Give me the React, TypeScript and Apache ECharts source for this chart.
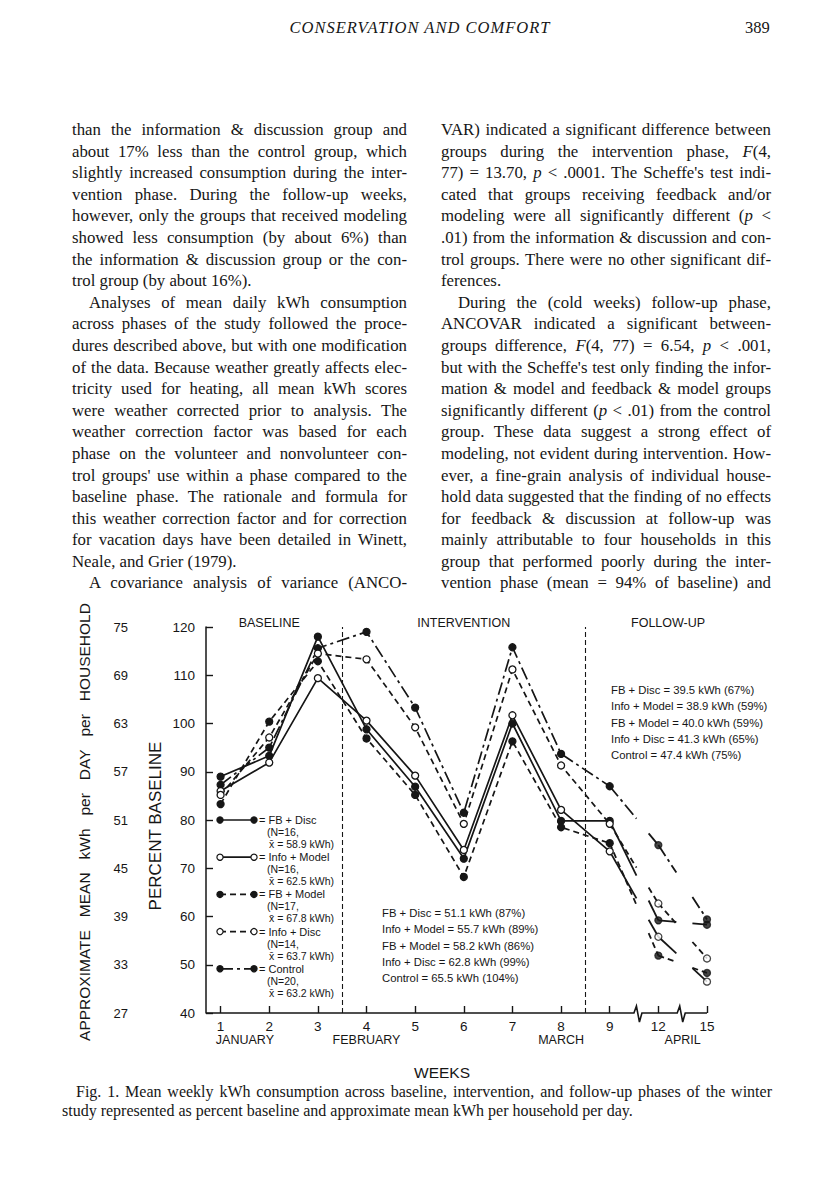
import React, { useEffect, useLayoutEffect, useRef } from 'react';
import * as echarts from 'echarts';

// ---------------- data ----------------
const weekLabels = ['1', '2', '3', '4', '5', '6', '7', '8', '9', '12', '15'];
const monthLabels = ['JANUARY', 'FEBRUARY', 'MARCH', 'APRIL'];
const monthSlots = [1.5, 4, 8, 10.5];
const phaseLabels = ['BASELINE', 'INTERVENTION', 'FOLLOW-UP'];
const phaseLabelSlots = [2, 6, 10.2];
const phaseBoundaries = [3.5, 8.5];
const percentTicks = [40, 50, 60, 70, 80, 90, 100, 110, 120];
const kwhTicks = ['27', '33', '39', '45', '51', '57', '63', '69', '75'];

const groupNames = ['FB + Disc', 'Info + Model', 'FB + Model', 'Info + Disc', 'Control'];
const groupN = ['16', '16', '17', '14', '20'];
const groupMeanKwh = ['58.9', '62.5', '67.8', '63.7', '63.2'];

const fbDisc = [89.0, 93.3, 118.0, 98.8, 86.9, 72.0, 100.0, 79.8, 79.8, 59.2, 58.3];
const infoModel = [86.0, 91.9, 109.4, 100.6, 89.2, 73.8, 101.7, 82.1, 73.5, 55.8, 46.5];
const fbModel = [83.3, 100.4, 112.9, 96.9, 85.2, 68.2, 96.3, 78.5, 75.2, 51.9, 48.3];
const infoDisc = [85.2, 97.1, 114.5, 113.3, 99.2, 79.2, 111.2, 91.3, 79.2, 62.7, 51.3];
const control = [87.3, 95.0, 115.6, 119.0, 103.3, 81.5, 115.8, 93.7, 87.0, 74.8, 59.4];

const interventionMeans = [
  'FB + Disc = 51.1 kWh (87%)',
  'Info + Model = 55.7 kWh (89%)',
  'FB + Model = 58.2 kWh (86%)',
  'Info + Disc = 62.8 kWh (99%)',
  'Control = 65.5 kWh (104%)',
];
const followUpMeans = [
  'FB + Disc = 39.5 kWh (67%)',
  'Info + Model = 38.9 kWh (59%)',
  'FB + Model = 40.0 kWh (59%)',
  'Info + Disc = 41.3 kWh (65%)',
  'Control = 47.4 kWh (75%)',
];

const headerTitle = 'CONSERVATION AND COMFORT';
const pageNumber = '389';
const leftLines = [
  'than the information & discussion group and',
  'about 17% less than the control group, which',
  'slightly increased consumption during the inter-',
  'vention phase. During the follow-up weeks,',
  'however, only the groups that received modeling',
  'showed less consumption (by about 6%) than',
  'the information & discussion group or the con-',
  'trol group (by about 16%).',
  'Analyses of mean daily kWh consumption',
  'across phases of the study followed the proce-',
  'dures described above, but with one modification',
  'of the data. Because weather greatly affects elec-',
  'tricity used for heating, all mean kWh scores',
  'were weather corrected prior to analysis. The',
  'weather correction factor was based for each',
  'phase on the volunteer and nonvolunteer con-',
  "trol groups' use within a phase compared to the",
  'baseline phase. The rationale and formula for',
  'this weather correction factor and for correction',
  'for vacation days have been detailed in Winett,',
  'Neale, and Grier (1979).',
  'A covariance analysis of variance (ANCO-',
];
const leftParaEnds = [7, 20];
const leftIndents = [8, 21];
const rightLines = [
  'VAR) indicated a significant difference between',
  'groups during the intervention phase, _F_(4,',
  "77) = 13.70, _p_ < .0001. The Scheffe's test indi-",
  'cated that groups receiving feedback and/or',
  'modeling were all significantly different (_p_ <',
  '.01) from the information & discussion and con-',
  'trol groups. There were no other significant dif-',
  'ferences.',
  'During the (cold weeks) follow-up phase,',
  'ANCOVAR indicated a significant between-',
  'groups difference, _F_(4, 77) = 6.54, _p_ < .001,',
  "but with the Scheffe's test only finding the infor-",
  'mation & model and feedback & model groups',
  'significantly different (_p_ < .01) from the control',
  'group. These data suggest a strong effect of',
  'modeling, not evident during intervention. How-',
  'ever, a fine-grain analysis of individual house-',
  'hold data suggested that the finding of no effects',
  'for feedback & discussion at follow-up was',
  'mainly attributable to four households in this',
  'group that performed poorly during the inter-',
  'vention phase (mean = 94% of baseline) and',
];
const rightParaEnds = [7];
const rightIndents = [8];
const captionLines = [
  'Fig. 1. Mean weekly kWh consumption across baseline, intervention, and follow-up phases of the winter',
  'study represented as percent baseline and approximate mean kWh per household per day.',
];

// ---------------- styling ----------------
const INK = '#161616';
const SANS = '"Liberation Sans", Arial, sans-serif';
const SERIF = '"Liberation Serif", "Times New Roman", serif';
const groupValues = [fbDisc, infoModel, fbModel, infoDisc, control];
const groupFilled = [true, false, true, false, true];
const groupDash: any[] = ['solid', 'solid', [6, 4], [6, 4], [13, 4, 3, 4]];
const X_MIN = 0.7;
const X_MAX = 11;
const stubSpans = [
  [[0, 0.55], [0.8, 1]],
  [[0, 0.37], [0.7, 1]],
];

function renderLine(text: string) {
  const parts = text.split('_');
  return parts.map((p, i) => (i % 2 === 1 ? <i key={i}>{p}</i> : <span key={i}>{p}</span>));
}

function JustLine({ text, width, justify, indent, height }: any) {
  const r = useRef<HTMLSpanElement>(null);
  useLayoutEffect(() => {
    const el = r.current;
    if (!el) return;
    el.style.wordSpacing = '0px';
    const w = el.getBoundingClientRect().width;
    const spaces = (text.match(/ /g) || []).length;
    if (justify && spaces) {
      el.style.wordSpacing = `${(width - indent - w) / spaces}px`;
    } else if (w > width - indent && spaces) {
      el.style.wordSpacing = `${(width - indent - w) / spaces}px`;
    }
  }, [text, width, justify, indent]);
  return (
    <div style={{ whiteSpace: 'nowrap', height, paddingLeft: indent }}>
      <span ref={r}>{renderLine(text)}</span>
    </div>
  );
}

function Column({ lines, ends, indents, left, width }: any) {
  return (
    <div
      style={{
        position: 'absolute',
        left,
        top: 119,
        width,
        fontFamily: SERIF,
        fontSize: 16.8,
        lineHeight: '21.6px',
        color: INK,
      }}
    >
      {lines.map((l: string, i: number) => (
        <JustLine
          key={i}
          text={l}
          width={width}
          justify={!ends.includes(i)}
          indent={indents.includes(i) ? 17 : 0}
          height={21.6}
        />
      ))}
    </div>
  );
}

export default function App() {
  const ref = useRef<HTMLDivElement>(null);

  useEffect(() => {
    if (!ref.current) return;
    const chart = echarts.init(ref.current, null, { renderer: 'svg' });
    const slots = weekLabels.map((_, i) => i + 1);

    const series: any[] = [];
    groupValues.forEach((vals, gi) => {
      const itemStyle = {
        color: groupFilled[gi] ? INK : '#ffffff',
        borderColor: INK,
        borderWidth: 1.3,
      };
      const line: any = {
        type: 'line',
        name: groupNames[gi],
        data: vals.slice(0, 9).map((v, i) => [slots[i], v]),
        symbol: 'circle',
        symbolSize: 7,
        showSymbol: true,
        lineStyle: { color: INK, width: 1.7, type: groupDash[gi] },
        itemStyle,
        z: groupFilled[gi] ? 3 : 4,
        silent: true,
      };
      if (gi === 0) {
        line.markLine = {
          symbol: 'none',
          silent: true,
          label: { show: false },
          lineStyle: { color: INK, width: 1.1, type: [5, 3] },
          data: phaseBoundaries.map((x) => ({ xAxis: x })),
        };
      }
      series.push(line);
      series.push({
        type: 'scatter',
        name: groupNames[gi] + ' follow-up',
        data: vals.slice(9).map((v, i) => [slots[9 + i], v]),
        symbol: 'circle',
        symbolSize: 7,
        itemStyle,
        z: 5,
        silent: true,
      });
      const segs = [
        [slots[8], vals[8], slots[9], vals[9]],
        [slots[9], vals[9], slots[10], vals[10]],
      ];
      series.push({
        type: 'custom',
        name: groupNames[gi] + ' stubs',
        data: segs,
        encode: { x: [0, 2], y: [1, 3] },
        silent: true,
        z: 2,
        renderItem: (params: any, api: any) => {
          const p1 = api.coord([api.value(0), api.value(1)]);
          const p2 = api.coord([api.value(2), api.value(3)]);
          const at = (t: number) => [p1[0] + (p2[0] - p1[0]) * t, p1[1] + (p2[1] - p1[1]) * t];
          const spans = stubSpans[params.dataIndex];
          return {
            type: 'group',
            children: spans.map(([a, b]: number[]) => {
              const s = at(a);
              const e = at(b);
              return {
                type: 'line',
                shape: { x1: s[0], y1: s[1], x2: e[0], y2: e[1] },
                style: {
                  stroke: INK,
                  lineWidth: 1.8,
                  lineDash: groupDash[gi] === 'solid' ? null : groupDash[gi],
                },
              };
            }),
          };
        },
      });
    });

    // x axis baseline with breaks
    series.push({
      type: 'custom',
      name: 'x-axis-line',
      data: [[X_MIN, 40]],
      silent: true,
      z: 1,
      renderItem: (_p: any, api: any) => {
        const [x0, y0] = api.coord([X_MIN, 40]);
        const x1 = api.coord([X_MAX, 40])[0];
        const b1 = api.coord([9.58, 40])[0];
        const b2 = api.coord([10.47, 40])[0];
        const zig = (b: number) => [
          [b - 4, y0],
          [b - 1.5, y0 - 7],
          [b + 1.5, y0 + 9],
          [b + 4, y0],
        ];
        return {
          type: 'polyline',
          shape: { points: [[x0, y0], ...zig(b1), ...zig(b2), [x1, y0]] },
          style: { stroke: INK, lineWidth: 1.6, fill: 'none' },
        };
      },
    });

    const option: any = {
      animation: false,
      grid: { left: 206, top: 627, width: 501, height: 386 },
      xAxis: {
        type: 'value',
        min: X_MIN,
        max: X_MAX,
        axisLine: { show: false },
        splitLine: { show: false },
        axisTick: {
          show: true,
          inside: true,
          length: 7,
          customValues: slots,
          lineStyle: { color: INK, width: 1.4 },
        },
        axisLabel: {
          show: true,
          customValues: slots,
          formatter: (v: number) => weekLabels[Math.round(v) - 1] ?? '',
          color: INK,
          fontSize: 13.5,
          fontFamily: SANS,
          margin: 6,
        },
      },
      yAxis: [
        {
          type: 'value',
          min: 40,
          max: 120,
          interval: 10,
          axisLine: { show: true, lineStyle: { color: INK, width: 1.5 } },
          axisTick: { show: true, inside: true, length: 7, lineStyle: { color: INK, width: 1.4 } },
          axisLabel: { color: INK, fontSize: 13.5, fontFamily: SANS, margin: 11 },
          splitLine: { show: false },
        },
        {
          type: 'value',
          min: 40,
          max: 120,
          interval: 10,
          position: 'left',
          offset: 78,
          axisLine: { show: false },
          axisTick: { show: false },
          splitLine: { show: false },
          axisLabel: {
            color: INK,
            fontSize: 13,
            fontFamily: SANS,
            margin: 0,
            formatter: (v: number) => kwhTicks[percentTicks.indexOf(v)] ?? '',
          },
        },
      ],
      series,
    };
    chart.setOption(option);

    const px = (x: number, y: number) => chart.convertToPixel({ gridIndex: 0 } as any, [x, y]) as number[];
    const txt = (text: string, x: number, y: number, size: number, align = 'center', extra: any = {}) => ({
      type: 'text',
      x,
      y,
      silent: true,
      ...extra,
      style: {
        text,
        fill: INK,
        font: `${size}px ${SANS}`,
        align,
        verticalAlign: 'middle',
      },
    });

    const graphics: any[] = [];
    const topY = px(X_MIN, 120)[1];
    const botY = px(X_MIN, 40)[1];
    phaseLabels.forEach((l, i) => graphics.push(txt(l, px(phaseLabelSlots[i], 120)[0], topY - 4, 12.5)));
    monthLabels.forEach((l, i) => graphics.push(txt(l, px(monthSlots[i], 40)[0], botY + 27, 12.5)));
    graphics.push(txt('WEEKS', 442, botY + 59, 15.5));
    graphics.push(txt('PERCENT BASELINE', 155, 826, 17, 'center', { rotation: Math.PI / 2 }));
    graphics.push(
      txt(
        ['APPROXIMATE', 'MEAN', 'kWh', 'per', 'DAY', 'per', 'HOUSEHOLD'].join('\u00a0\u00a0\u00a0'),
        84,
        822,
        15.5,
        'center',
        { rotation: Math.PI / 2 }
      )
    );

    // legend
    const legX0 = 220;
    const legX1 = 254;
    groupNames.forEach((name, i) => {
      const y = 820 + i * 37.2;
      graphics.push({
        type: 'line',
        silent: true,
        shape: { x1: legX0, y1: y, x2: legX1, y2: y },
        style: {
          stroke: INK,
          lineWidth: 1.7,
          lineDash: groupDash[i] === 'solid' ? null : groupDash[i],
        },
      });
      [legX0, legX1].forEach((cx) =>
        graphics.push({
          type: 'circle',
          silent: true,
          shape: { cx, cy: y, r: 3.1 },
          style: { fill: groupFilled[i] ? INK : '#fff', stroke: INK, lineWidth: 1.2 },
        })
      );
      graphics.push(txt(`= ${name}`, 259, y, 11, 'left'));
      graphics.push(txt(`(N=${groupN[i]},`, 267, y + 12, 10.5, 'left'));
      graphics.push(txt(`x\u0304 = ${groupMeanKwh[i]} kWh)`, 269, y + 24, 10.5, 'left'));
    });

    interventionMeans.forEach((l, i) => graphics.push(txt(l, 382, 913 + i * 16.3, 11.3, 'left')));
    followUpMeans.forEach((l, i) => graphics.push(txt(l, 611, 690 + i * 16.3, 11.3, 'left')));

    chart.setOption({ graphic: graphics });

    return () => chart.dispose();
  }, []);

  return (
    <div style={{ position: 'absolute', left: 0, top: 0, width: 816, height: 1195, background: '#fff', overflow: 'hidden' }}>
      <div ref={ref} style={{ position: 'absolute', left: 0, top: 0, width: 816, height: 1195 }} />
      <div
        style={{
          position: 'absolute',
          left: 0,
          width: 840,
          top: 18,
          textAlign: 'center',
          fontFamily: SERIF,
          fontStyle: 'italic',
          fontSize: 16.5,
          letterSpacing: 1,
          color: INK,
        }}
      >
        {headerTitle}
      </div>
      <div style={{ position: 'absolute', left: 745, top: 18, fontFamily: SERIF, fontSize: 16.5, color: INK }}>{pageNumber}</div>
      <Column lines={leftLines} ends={leftParaEnds} indents={leftIndents} left={72} width={335} />
      <Column lines={rightLines} ends={rightParaEnds} indents={rightIndents} left={441} width={330} />
      <div style={{ position: 'absolute', left: 62, top: 1082, width: 710, fontFamily: SERIF, fontSize: 16, lineHeight: '19px', color: INK }}>
        <JustLine text={captionLines[0]} width={710} justify={true} indent={14} height={19} />
        <JustLine text={captionLines[1]} width={710} justify={false} indent={0} height={19} />
      </div>
    </div>
  );
}
